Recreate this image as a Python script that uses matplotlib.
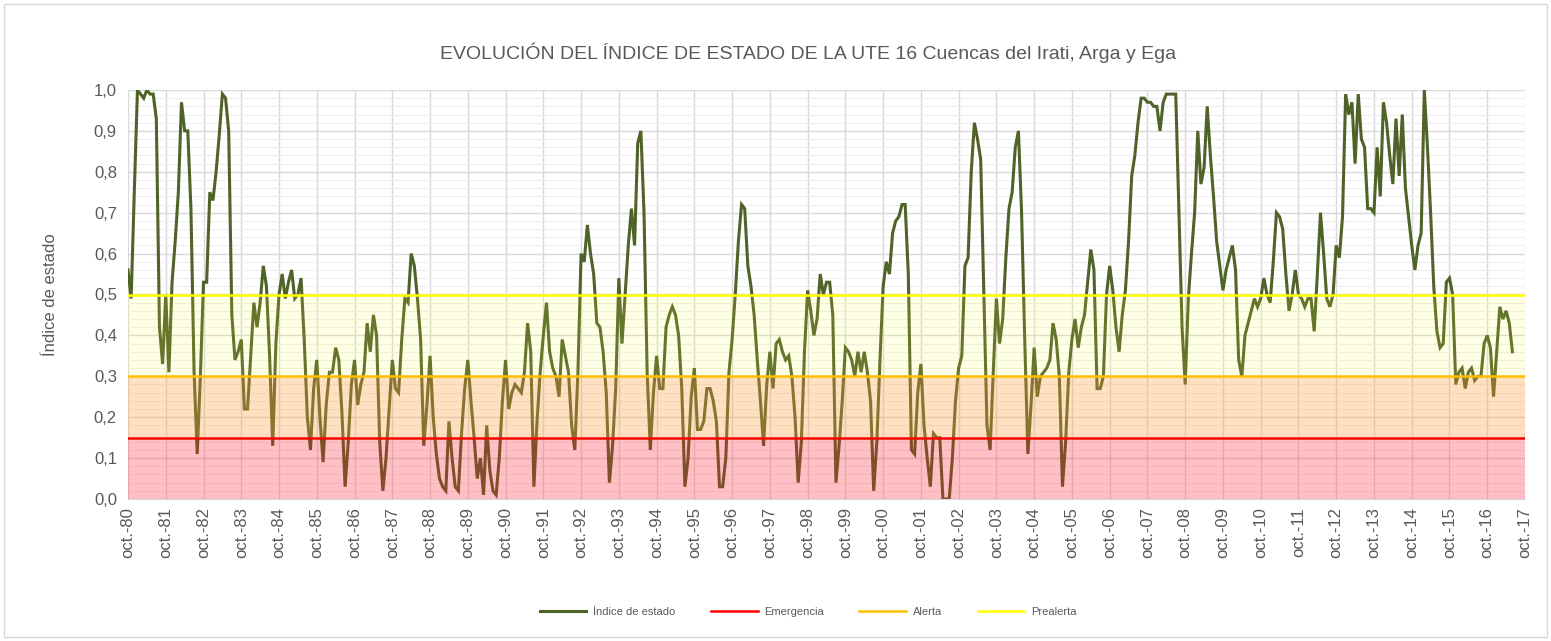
import numpy as np
import matplotlib.pyplot as plt
from matplotlib.lines import Line2D
from matplotlib.patches import Rectangle
from matplotlib.ticker import MultipleLocator, FuncFormatter

plt.rcParams['font.family'] = ['Liberation Sans', 'DejaVu Sans']

# monthly index, oct.-1980 to jun.-2017 (one row per hydrological year, oct-sep)
indice = [
    0.56, 0.49, 0.75, 1.00, 0.99, 0.98, 1.00, 0.99, 0.99, 0.93, 0.42, 0.33,
    0.50, 0.31, 0.53, 0.63, 0.75, 0.97, 0.90, 0.90, 0.71, 0.31, 0.11, 0.30,
    0.53, 0.53, 0.75, 0.73, 0.80, 0.89, 0.99, 0.98, 0.90, 0.45, 0.34, 0.36,
    0.39, 0.22, 0.22, 0.35, 0.48, 0.42, 0.48, 0.57, 0.52, 0.35, 0.13, 0.38,
    0.50, 0.55, 0.49, 0.53, 0.56, 0.49, 0.50, 0.54, 0.39, 0.20, 0.12, 0.27,
    0.34, 0.20, 0.09, 0.23, 0.31, 0.31, 0.37, 0.34, 0.21, 0.03, 0.14, 0.28,
    0.34, 0.23, 0.28, 0.31, 0.43, 0.36, 0.45, 0.40, 0.14, 0.02, 0.10, 0.22,
    0.34, 0.27, 0.26, 0.39, 0.49, 0.48, 0.60, 0.57, 0.49, 0.39, 0.13, 0.23,
    0.35, 0.20, 0.11, 0.05, 0.03, 0.02, 0.19, 0.10, 0.03, 0.02, 0.16, 0.27,
    0.34, 0.24, 0.15, 0.05, 0.10, 0.01, 0.18, 0.07, 0.02, 0.01, 0.10, 0.24,
    0.34, 0.22, 0.26, 0.28, 0.27, 0.26, 0.31, 0.43, 0.36, 0.03, 0.19, 0.31,
    0.40, 0.48, 0.36, 0.32, 0.30, 0.25, 0.39, 0.35, 0.31, 0.18, 0.12, 0.31,
    0.60, 0.58, 0.67, 0.60, 0.55, 0.43, 0.42, 0.36, 0.26, 0.04, 0.13, 0.27,
    0.54, 0.38, 0.50, 0.62, 0.71, 0.62, 0.87, 0.90, 0.70, 0.31, 0.12, 0.26,
    0.35, 0.27, 0.27, 0.42, 0.45, 0.47, 0.45, 0.40, 0.27, 0.03, 0.10, 0.25,
    0.32, 0.17, 0.17, 0.19, 0.27, 0.27, 0.24, 0.19, 0.03, 0.03, 0.10, 0.31,
    0.39, 0.50, 0.63, 0.72, 0.71, 0.57, 0.52, 0.45, 0.34, 0.24, 0.13, 0.28,
    0.36, 0.27, 0.38, 0.39, 0.36, 0.34, 0.35, 0.30, 0.20, 0.04, 0.14, 0.36,
    0.51, 0.46, 0.40, 0.44, 0.55, 0.50, 0.53, 0.53, 0.45, 0.04, 0.13, 0.24,
    0.37, 0.36, 0.34, 0.30, 0.36, 0.31, 0.36, 0.31, 0.24, 0.02, 0.14, 0.34,
    0.52, 0.58, 0.55, 0.65, 0.68, 0.69, 0.72, 0.72, 0.55, 0.12, 0.11, 0.26,
    0.33, 0.18, 0.10, 0.03, 0.16, 0.15, 0.15, 0.00, 0.00, 0.00, 0.10, 0.24,
    0.32, 0.35, 0.57, 0.59, 0.80, 0.92, 0.88, 0.83, 0.50, 0.18, 0.12, 0.31,
    0.49, 0.38, 0.44, 0.59, 0.71, 0.75, 0.86, 0.90, 0.70, 0.39, 0.11, 0.23,
    0.37, 0.25, 0.30, 0.31, 0.32, 0.34, 0.43, 0.39, 0.30, 0.03, 0.14, 0.31,
    0.39, 0.44, 0.37, 0.42, 0.45, 0.53, 0.61, 0.56, 0.27, 0.27, 0.30, 0.50,
    0.57, 0.51, 0.42, 0.36, 0.45, 0.51, 0.63, 0.79, 0.84, 0.92, 0.98, 0.98,
    0.97, 0.97, 0.96, 0.96, 0.90, 0.97, 0.99, 0.99, 0.99, 0.99, 0.70, 0.42,
    0.28, 0.49, 0.60, 0.70, 0.90, 0.77, 0.81, 0.96, 0.84, 0.74, 0.63, 0.57,
    0.51, 0.56, 0.59, 0.62, 0.56, 0.34, 0.30, 0.40, 0.43, 0.46, 0.49, 0.47,
    0.49, 0.54, 0.50, 0.48, 0.58, 0.70, 0.69, 0.66, 0.55, 0.46, 0.50, 0.56,
    0.50, 0.49, 0.47, 0.49, 0.49, 0.41, 0.55, 0.70, 0.60, 0.49, 0.47, 0.50,
    0.62, 0.59, 0.69, 0.99, 0.94, 0.97, 0.82, 0.99, 0.88, 0.86, 0.71, 0.71,
    0.70, 0.86, 0.74, 0.97, 0.92, 0.84, 0.77, 0.93, 0.79, 0.94, 0.76, 0.69,
    0.62, 0.56, 0.62, 0.65, 1.00, 0.86, 0.70, 0.52, 0.41, 0.37, 0.38, 0.53,
    0.54, 0.50, 0.28, 0.31, 0.32, 0.27, 0.31, 0.32, 0.29, 0.30, 0.30, 0.38,
    0.40, 0.37, 0.25, 0.36, 0.47, 0.44, 0.46, 0.43, 0.36,
]

# thresholds
emergencia = 0.15
alerta = 0.30
prealerta = 0.50

# one label per October
anios = list(range(80, 100)) + list(range(0, 18))
etiquetas = [f"oct.-{a:02d}" for a in anios]

meses = np.arange(len(indice))
pos_etiquetas = np.arange(len(etiquetas)) * 12

gris = '#595959'
c_indice = '#4F6228'
c_emerg = '#FF0000'
c_alerta = '#FFC000'
c_prealerta = '#FFFF00'

fig = plt.figure(figsize=(15.51, 6.41), dpi=100)
W, H = 1551, 641
ax = fig.add_axes([128 / W, 1 - 499 / H, (1525 - 128) / W, (499 - 90) / H])

ax.plot(meses, indice, color=c_indice, lw=2.2, zorder=2, solid_joinstyle='miter')

# shaded zones drawn over the series
ax.axhspan(0, emergencia, color='#FF2030', alpha=0.28, lw=0, zorder=3)
ax.axhspan(emergencia, alerta, color='#FFA040', alpha=0.32, lw=0, zorder=3)
ax.axhspan(alerta, prealerta, color='#FFFF40', alpha=0.13, lw=0, zorder=3)

ax.axhline(emergencia, color=c_emerg, lw=1.8, zorder=4)
ax.axhline(alerta, color=c_alerta, lw=1.8, zorder=4)
ax.axhline(prealerta, color=c_prealerta, lw=1.8, zorder=4)

ax.set_xlim(0, pos_etiquetas[-1])
ax.set_ylim(0, 1)
ax.set_xticks(pos_etiquetas)
ax.set_xticklabels(etiquetas, rotation=90, fontsize=12, color=gris)
ax.yaxis.set_major_locator(MultipleLocator(0.1))
ax.yaxis.set_minor_locator(MultipleLocator(0.02))
ax.yaxis.set_major_formatter(FuncFormatter(lambda v, p: f"{v:.1f}".replace('.', ',')))
ax.tick_params(axis='y', labelsize=12, labelcolor=gris, length=0, which='both', pad=8)
ax.tick_params(axis='x', length=0, pad=6)

ax.grid(which='major', axis='both', color='#D9D9D9', lw=1.0, zorder=0)
ax.grid(which='minor', axis='y', color='#EEEEEE', lw=0.8, zorder=0)
ax.set_axisbelow(True)
for s in ['top', 'right', 'left']:
    ax.spines[s].set_visible(False)
ax.spines['bottom'].set_color('#D9D9D9')

ax.set_ylabel('Índice de estado', fontsize=12, color=gris, labelpad=26)

fig.text(0.521, 1 - 53 / H,
         'EVOLUCIÓN DEL ÍNDICE DE ESTADO DE LA UTE 16 Cuencas del Irati, Arga y Ega',
         ha='center', va='center', fontsize=14, color=gris)

handles = [Line2D([], [], color=c_indice, lw=2.2),
           Line2D([], [], color=c_emerg, lw=1.8),
           Line2D([], [], color=c_alerta, lw=1.8),
           Line2D([], [], color=c_prealerta, lw=1.8)]
fig.legend(handles, ['Índice de estado', 'Emergencia', 'Alerta', 'Prealerta'],
           loc='center', bbox_to_anchor=(0.521, 1 - 612 / H), ncol=4,
           frameon=False, fontsize=8, handlelength=4.2, columnspacing=3.2,
           handletextpad=0.6, labelcolor=gris)

fig.patches.append(Rectangle((4 / W, 4 / H), 1 - 8 / W, 1 - 8 / H,
                             transform=fig.transFigure, fill=False,
                             edgecolor='#D9D9D9', lw=1))

fig.savefig('out.png', dpi=100, facecolor='white')
